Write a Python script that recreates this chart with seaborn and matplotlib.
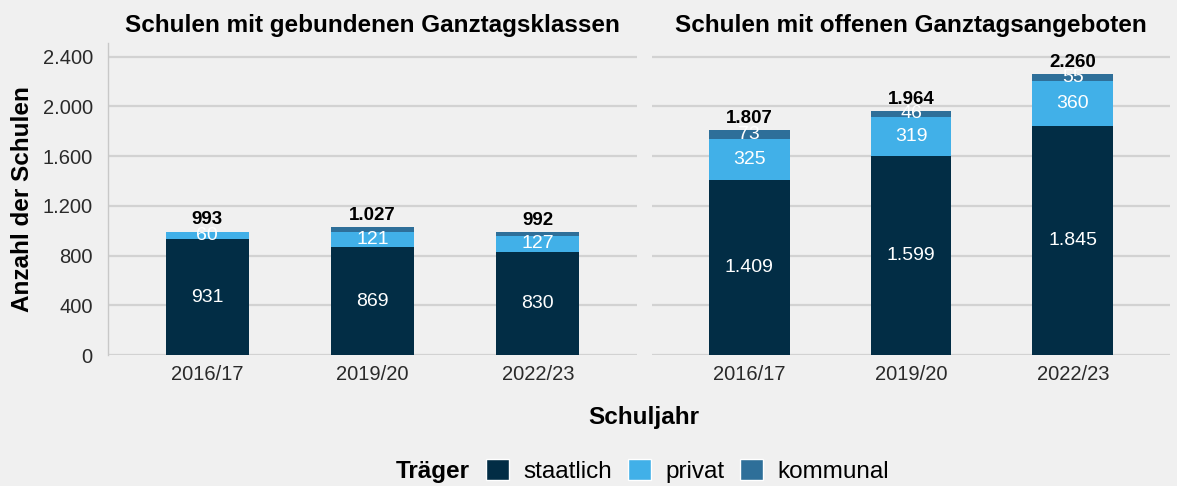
import pandas as pd
import matplotlib.pyplot as plt
import seaborn as sns
from matplotlib.patches import Patch
from matplotlib.ticker import FuncFormatter

# Daten
jahre = ['2016/17', '2019/20', '2022/23']
panels = ['Schulen mit gebundenen Ganztagsklassen', 'Schulen mit offenen Ganztagsangeboten']
staatlich = [[931, 869, 830], [1409, 1599, 1845]]
privat = [[60, 121, 127], [325, 319, 360]]
kommunal = [[2, 37, 35], [73, 46, 55]]

farben = {'staatlich': '#022d45', 'privat': '#41b0e8', 'kommunal': '#2e6f99'}
bg = '#f0f0f0'


def fmt(v):
    return f'{int(v):,}'.replace(',', '.')


def main():
    sns.set_theme(style='white')
    plt.rcParams['font.family'] = ['Liberation Sans', 'DejaVu Sans']
    plt.rcParams['text.color'] = 'black'
    plt.rcParams['axes.labelcolor'] = 'black'

    fig = plt.figure(figsize=(11.77, 4.86), dpi=100, facecolor=bg)
    axes = [fig.add_axes([0.0918, 0.2695, 0.4494, 0.642]),
            fig.add_axes([0.554, 0.2695, 0.440, 0.642])]

    for i, ax in enumerate(axes):
        ax.set_facecolor(bg)
        df = pd.DataFrame({'jahr': jahre, 'staatlich': staatlich[i],
                           'privat': privat[i], 'kommunal': kommunal[i]})
        df['sp'] = df['staatlich'] + df['privat']
        df['total'] = df['sp'] + df['kommunal']

        # gestapelte Balken: Summen übereinander zeichnen
        for spalte, farbe in [('total', farben['kommunal']), ('sp', farben['privat']),
                              ('staatlich', farben['staatlich'])]:
            sns.barplot(data=df, x='jahr', y=spalte, color=farbe, width=0.5,
                        saturation=1, errorbar=None, ax=ax, zorder=3, linewidth=0)

        for j, row in df.iterrows():
            ax.text(j, row['staatlich'] / 2, fmt(row['staatlich']), ha='center', va='center',
                    color='white', fontsize=14, zorder=4)
            ax.text(j, row['staatlich'] + row['privat'] / 2, fmt(row['privat']), ha='center',
                    va='center', color='white', fontsize=14, zorder=4)
            if row['kommunal'] >= 40:
                ax.text(j, row['sp'] + row['kommunal'] / 2, fmt(row['kommunal']), ha='center',
                        va='center', color='white', fontsize=14, zorder=4)
            ax.text(j, row['total'] + 25, fmt(row['total']), ha='center', va='bottom',
                    color='black', fontsize=13.5, fontweight='bold', zorder=4)

        ax.set_xlim(-0.6, 2.6)
        ax.set_ylim(0, 2510)
        ax.set_yticks([0, 400, 800, 1200, 1600, 2000, 2400])
        ax.yaxis.set_major_formatter(FuncFormatter(lambda v, p: fmt(v)))
        ax.grid(axis='y', color='#d2d2d2', linewidth=1.6, zorder=0)
        ax.grid(axis='x', visible=False)
        for s in ax.spines.values():
            s.set_visible(False)
        ax.tick_params(axis='both', length=0, labelsize=14.5, labelcolor='#2a2a2a')
        ax.tick_params(axis='x', pad=7)
        ax.tick_params(axis='y', pad=11)
        ax.set_xlabel('')
        ax.set_ylabel('')
        ax.set_title(panels[i], fontsize=17.5, fontweight='bold', pad=8, color='black')

    axes[0].spines['left'].set_visible(True)
    axes[0].spines['left'].set_color('#c8c8c8')
    axes[0].spines['left'].set_linewidth(1)
    axes[0].set_ylabel('Anzahl der Schulen', fontsize=17.5, fontweight='bold', labelpad=6)
    axes[1].set_yticklabels([])

    fig.text(0.547, 0.14, 'Schuljahr', ha='center', va='center', fontsize=17.5,
             fontweight='bold')

    fig.text(396 / 1177, 1 - 471 / 486, 'Träger', ha='left', va='center', fontsize=17.5,
             fontweight='bold')
    handles = [Patch(facecolor=farben[k], label=k) for k in ['staatlich', 'privat', 'kommunal']]
    fig.legend(handles=handles, loc='center left', bbox_to_anchor=(486 / 1177, 1 - 471 / 486),
               ncol=3, frameon=False, fontsize=17.5, handlelength=0.95, handleheight=0.95,
               handletextpad=0.58, columnspacing=0.66, borderaxespad=0, borderpad=0)

    fig.savefig('out.png', dpi=100, facecolor=bg)


if __name__ == '__main__':
    main()
